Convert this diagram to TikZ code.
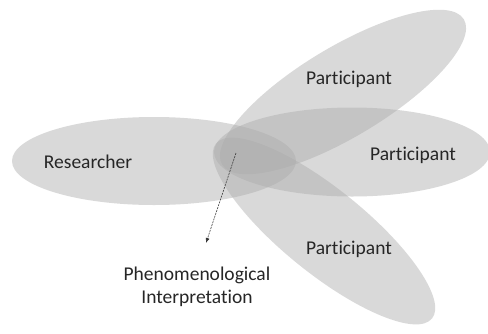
\documentclass[tikz,border=0pt]{standalone}
\usepackage{fontspec}
\setmainfont{Carlito}[Ligatures=NoCommon]
\usetikzlibrary{shapes.geometric,arrows.meta}

\begin{document}
\begin{tikzpicture}[x=1pt, y=-1pt, every node/.style={font=\fontsize{19.5}{23}\selectfont, text=black!85},
    petal/.style={ellipse, draw=none, fill=black!33, fill opacity=0.45, inner sep=0pt}]

    \useasboundingbox (0,0) rectangle (488,333);

    % Ellipses
    \node (researcher_area) at (154,161) [petal, minimum width=284pt, minimum height=88pt] {};
    \node (top_area) at (343,92) [petal, rotate=31, minimum width=282pt, minimum height=90pt] {};
    \node (right_area) at (352,152) [petal, minimum width=276pt, minimum height=89pt] {};
    \node (bottom_area) at (324,231) [petal, rotate=-39, minimum width=278pt, minimum height=84pt] {};

    % Nodes
    \node (researcher) at (88,162) {Researcher};
    \node (participant_top) at (349,79) {Participant};
    \node (participant_right) at (413,155) {Participant};
    \node (participant_bottom) at (349,249) {Participant};
    \node (interpretation) at (197,287) [align=center] {Phenomenological\\Interpretation};
    \coordinate (overlap) at (236,153);
    \coordinate (arrow_end) at (206,243);

    % Edges
    \draw[-{Latex[length=5pt,width=4pt]}, dash pattern=on 2pt off 1pt, line width=0.6pt, black!80] (overlap) -- (arrow_end);

\end{tikzpicture}
\end{document}
